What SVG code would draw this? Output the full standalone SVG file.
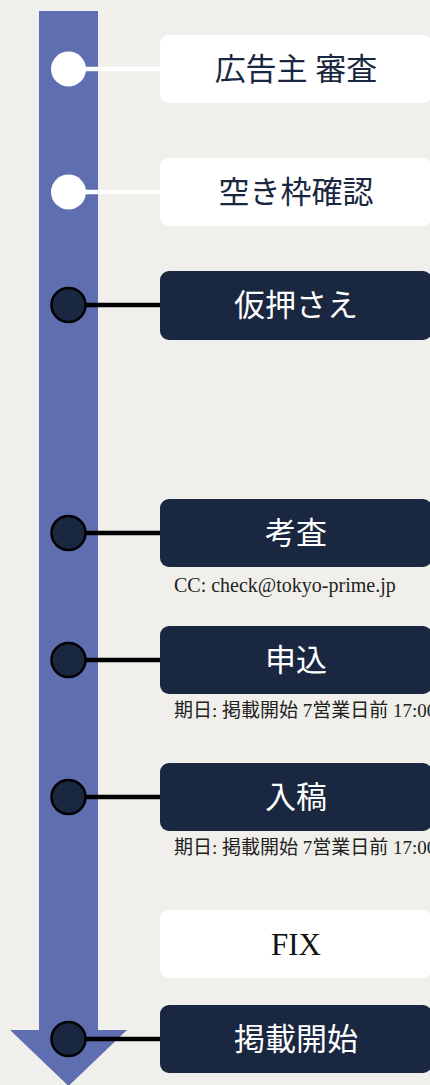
<svg xmlns="http://www.w3.org/2000/svg" width="430" height="1085" viewBox="0 0 430 1085">
<style>
.t{font-family:"Liberation Serif","Noto Sans CJK JP",serif;font-size:31px;text-anchor:middle;dominant-baseline:central}
.lt{fill:#1a2740}
.dk{fill:#ffffff}
.sub{font-family:"Liberation Serif","Noto Sans CJK JP",serif;font-size:19px;fill:#222222}
.bw{fill:#ffffff}
.bd{fill:#1a2740}
.cw{fill:#ffffff}
.cd{fill:#1a2740;stroke:#000000;stroke-width:2.5}
.lw{stroke:#ffffff;stroke-width:4.5}
.ld{stroke:#000000;stroke-width:4.5}
</style>
<rect width="430" height="1085" fill="#f0efeb"/>
<g id="timeline">
<polygon points="39,11 98,11 98,1030 127,1030 68.5,1086 10,1030 39,1030" fill="#5e6eb1"/>
</g>
<g id="connectors">
<line class="lw" x1="68" y1="69" x2="160" y2="69"/>
<line class="lw" x1="68" y1="192" x2="160" y2="192"/>
<line class="ld" x1="68" y1="305" x2="160" y2="305"/>
<line class="ld" x1="68" y1="533" x2="160" y2="533"/>
<line class="ld" x1="68" y1="660" x2="160" y2="660"/>
<line class="ld" x1="68" y1="797" x2="160" y2="797"/>
<line class="ld" x1="68" y1="1039" x2="160" y2="1039"/>
</g>
<g id="n1">
<circle class="cw" cx="68.5" cy="69" r="17.5"/>
<rect class="bw" x="160" y="35" width="272" height="68" rx="9"/>
<text class="t lt" x="296" y="69">広告主 審査</text>
</g>
<g id="n2">
<circle class="cw" cx="68.5" cy="192" r="17.5"/>
<rect class="bw" x="160" y="158" width="272" height="68" rx="9"/>
<text class="t lt" x="296" y="192">空き枠確認</text>
</g>
<g id="n3">
<circle class="cd" cx="68.5" cy="305" r="17"/>
<rect class="bd" x="160" y="271" width="272" height="69" rx="9"/>
<text class="t dk" x="296" y="305">仮押さえ</text>
</g>
<g id="n4">
<circle class="cd" cx="68.5" cy="533" r="17"/>
<rect class="bd" x="160" y="499" width="272" height="68" rx="9"/>
<text class="t dk" x="296" y="533">考査</text>
<text class="sub" x="174" y="592" style="font-size:20px">CC: check@tokyo-prime.jp</text>
</g>
<g id="n5">
<circle class="cd" cx="68.5" cy="660" r="17"/>
<rect class="bd" x="160" y="626" width="272" height="68" rx="9"/>
<text class="t dk" x="296" y="660">申込</text>
<text class="sub" x="174" y="717">期日: 掲載開始 7営業日前 17:00</text>
</g>
<g id="n6">
<circle class="cd" cx="68.5" cy="797" r="17"/>
<rect class="bd" x="160" y="763" width="272" height="68" rx="9"/>
<text class="t dk" x="296" y="797">入稿</text>
<text class="sub" x="174" y="854">期日: 掲載開始 7営業日前 17:00</text>
</g>
<g id="n7">
<rect class="bw" x="160" y="910" width="272" height="68" rx="9"/>
<text class="t" x="296" y="944" fill="#111111">FIX</text>
</g>
<g id="n8">
<circle class="cd" cx="68.5" cy="1039" r="17"/>
<rect class="bd" x="160" y="1005" width="272" height="68" rx="9"/>
<text class="t dk" x="296" y="1039">掲載開始</text>
</g>
</svg>
